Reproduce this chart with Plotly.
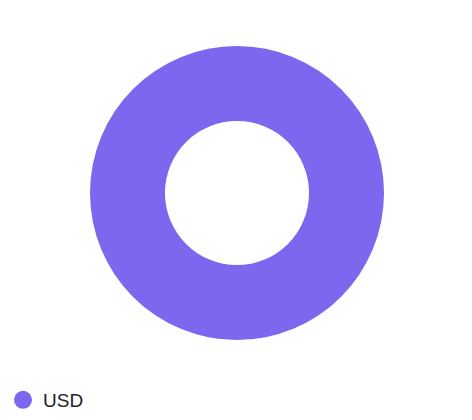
import plotly.graph_objects as go

labels = ["USD"]
values = [100]
colors = ["#7B68EE"]

fig = go.Figure()
fig.add_trace(go.Pie(
    labels=labels, values=values, hole=0.49,
    marker=dict(colors=colors, line=dict(width=0)),
    textinfo="none", hoverinfo="label+value", sort=False,
    showlegend=False,
    domain=dict(x=[(237 - 147) / 472, (237 + 147) / 472], y=[1 - 340 / 420, 1 - 46 / 420]),
))
for lab, col in zip(labels, colors):
    fig.add_trace(go.Scatter(
        x=[None], y=[None], mode="markers", name=lab,
        marker=dict(size=20, color=col, symbol="circle", line=dict(width=2, color=col)),
        showlegend=True,
    ))

fig.update_layout(
    width=472, height=420,
    margin=dict(l=0, r=0, t=0, b=0),
    paper_bgcolor="white", plot_bgcolor="white",
    xaxis=dict(visible=False), yaxis=dict(visible=False),
    font=dict(family="Liberation Sans, Arial, sans-serif", size=19, color="#222222"),
    legend=dict(x=3 / 472, y=1 / 420, xanchor="left", yanchor="bottom", orientation="h",
                itemsizing="trace", bgcolor="rgba(0,0,0,0)"),
)
fig.write_html("out.html")
